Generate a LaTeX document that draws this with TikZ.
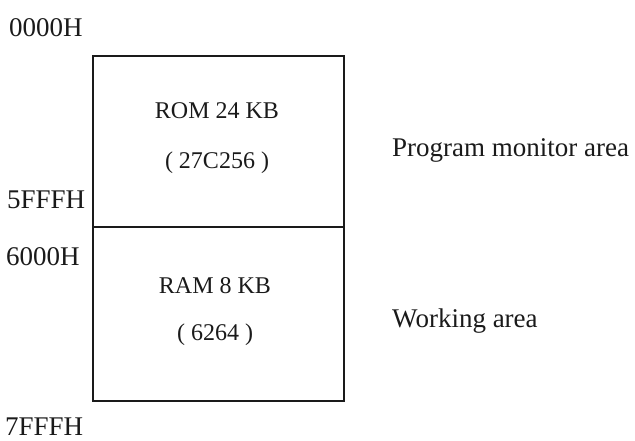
\documentclass[tikz,border=0pt]{standalone}
\usepackage{fontspec}
\setmainfont{Liberation Serif}
\usepackage{xcolor}
\usepackage{tikz}
\usetikzlibrary{positioning}
\definecolor{mapink}{HTML}{1A1A1A}
\tikzset{
  region/.style = {rectangle, draw=mapink, line width=1.4pt, inner sep=0pt,
                   minimum width=251pt},
  addr/.style   = {anchor=base west, inner sep=0pt, text=mapink,
                   font=\fontsize{27}{30}\selectfont},
  chip/.style   = {anchor=base, inner sep=0pt, text=mapink,
                   font=\fontsize{24}{30}\selectfont},
  use/.style    = {anchor=base west, inner sep=0pt, text=mapink,
                   font=\fontsize{27}{30}\selectfont},
}
\begin{document}
\begin{tikzpicture}[x=1pt,y=-1pt]
\useasboundingbox (0,0) rectangle (635,440);
% memory blocks
\node[region, minimum height=171pt] (rom) at (218.5,141.5) {};
\node[region, minimum height=174pt] (ram) at (218.5,314) {};
% block texts
\node[chip] (romsize) at (217,118) {ROM 24 KB};
\node[chip] (romchip) at (217,168) {( 27C256 )};
\node[chip] (ramsize) at (215,293) {RAM 8 KB};
\node[chip] (ramchip) at (215,340) {( 6264 )};
% addresses
\node[addr] (a0000) at (9,36) {0000H};
\node[addr] (a5fff) at (7,208) {5FFFH};
\node[addr] (a6000) at (6,265) {6000H};
\node[addr] (a7fff) at (5,435) {7FFFH};
% usage
\node[use] (monitor) at (392,156) {Program monitor area};
\node[use] (working) at (392,327) {Working area};
\end{tikzpicture}
\end{document}
